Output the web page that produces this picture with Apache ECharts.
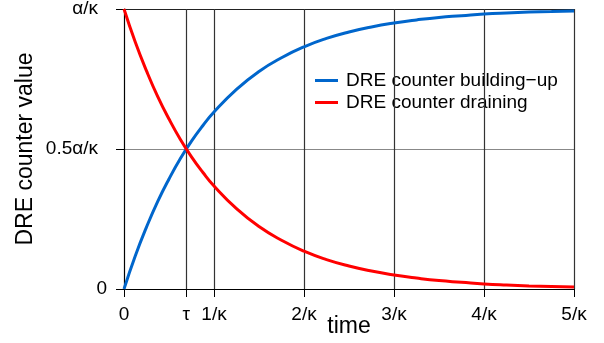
<!DOCTYPE html>
<html>
<head>
<meta charset="utf-8">
<script src="https://cdn.jsdelivr.net/npm/echarts@6/dist/echarts.min.js"></script>
<style>
  html, body { margin: 0; padding: 0; background: #fff; }
  #chart { width: 604px; height: 343px; }
</style>
</head>
<body>
<div id="chart"></div>
<script>
// time in units of 1/kappa, values in units of alpha/kappa
var times = [0, 0.125, 0.25, 0.375, 0.5, 0.625, 0.75, 0.875, 1, 1.25, 1.5, 1.75, 2, 2.25, 2.5, 2.75, 3, 3.25, 3.5, 3.75, 4, 4.25, 4.5, 4.75, 5];
var buildingUp = [0, 0.118, 0.221, 0.313, 0.393, 0.465, 0.528, 0.583, 0.632, 0.713, 0.777, 0.826, 0.865, 0.895, 0.918, 0.936, 0.950, 0.961, 0.970, 0.976, 0.982, 0.986, 0.989, 0.991, 0.993];
var draining = [1, 0.882, 0.779, 0.687, 0.607, 0.535, 0.472, 0.417, 0.368, 0.287, 0.223, 0.174, 0.135, 0.105, 0.082, 0.064, 0.050, 0.039, 0.030, 0.024, 0.018, 0.014, 0.011, 0.009, 0.007];

var xTicks = [0, 0.693, 1, 2, 3, 4, 5];
var xTickLabels = ['0', 'τ', '1/κ', '2/κ', '3/κ', '4/κ', '5/κ'];
var yTicks = [0, 0.5, 1];
var yTickLabels = ['{z|0}', '{a|0.5α/κ}', '{a|α/κ}'];
var gridLines = [0.693, 1, 2, 3, 4, 5];

function pairs(xs, ys) {
    var out = [];
    for (var i = 0; i < xs.length; i++) {
        out.push([xs[i], ys[i]]);
    }
    return out;
}

var myChart = echarts.init(document.getElementById('chart'));

var font = 'Liberation Sans, Arial, sans-serif';

var option = {
    animation: false,
    textStyle: { fontFamily: font },
    grid: { left: 124, right: 30, top: 9, bottom: 54, outerBoundsMode: 'none', containLabel: false },
    legend: {
        orient: 'vertical',
        left: 306,
        top: 63,
        padding: [8, 10, 8, 9],
        backgroundColor: '#fff',
        itemWidth: 23,
        itemHeight: 3,
        itemGap: 3,
        icon: 'rect',
        textStyle: { fontSize: 19, color: '#000', fontFamily: font, padding: [0, 0, 0, 3] },
        data: ['DRE counter building−up', 'DRE counter draining']
    },
    xAxis: {
        type: 'value',
        min: 0,
        max: 5,
        name: 'time',
        nameLocation: 'middle',
        nameGap: 26,
        nameMoveOverlap: false,
        nameTextStyle: { fontSize: 23, color: '#000', fontFamily: font },
        axisLine: { lineStyle: { color: '#000', width: 1.2 } },
        axisTick: { customValues: xTicks, length: 8, lineStyle: { color: '#000' } },
        axisLabel: {
            customValues: xTicks,
            margin: 16,
            fontSize: 19,
            color: '#000',
            formatter: function (v) {
                var i = xTicks.indexOf(v);
                return i >= 0 ? xTickLabels[i] : '';
            }
        },
        splitLine: { show: false }
    },
    yAxis: {
        type: 'value',
        min: 0,
        max: 1,
        interval: 0.5,
        name: 'DRE counter value',
        nameLocation: 'middle',
        nameGap: 87,
        nameMoveOverlap: false,
        nameTextStyle: { fontSize: 23, color: '#000', fontFamily: font },
        axisLine: { show: true, lineStyle: { color: '#000', width: 1.2 } },
        axisTick: { show: true, length: 8, lineStyle: { color: '#000' } },
        axisLabel: {
            margin: 17,
            fontSize: 19,
            color: '#000',
            formatter: function (v) {
                var i = yTicks.indexOf(v);
                return i >= 0 ? yTickLabels[i] : '';
            },
            rich: {
                z: { fontSize: 19, color: '#000' },
                a: { fontSize: 19, color: '#000', padding: [0, 9, 0, 0] }
            }
        },
        splitLine: { show: true, lineStyle: { color: ['#000', '#888', '#222'], width: 1.2 } }
    },
    series: [
        {
            name: 'grid',
            type: 'line',
            data: [],
            silent: true,
            markLine: {
                silent: true,
                symbol: 'none',
                label: { show: false },
                lineStyle: { color: '#333', width: 1.2, type: 'solid' },
                data: gridLines.map(function (v) { return { xAxis: v }; })
            }
        },
        {
            name: 'DRE counter building−up',
            type: 'line',
            data: pairs(times, buildingUp),
            smooth: true,
            symbol: 'none',
            color: '#0066cc',
            lineStyle: { width: 3, color: '#0066cc' },
            z: 5
        },
        {
            name: 'DRE counter draining',
            type: 'line',
            data: pairs(times, draining),
            smooth: true,
            symbol: 'none',
            color: '#ff0000',
            lineStyle: { width: 3, color: '#ff0000' },
            z: 5
        }
    ]
};

myChart.setOption(option);
</script>
</body>
</html>
